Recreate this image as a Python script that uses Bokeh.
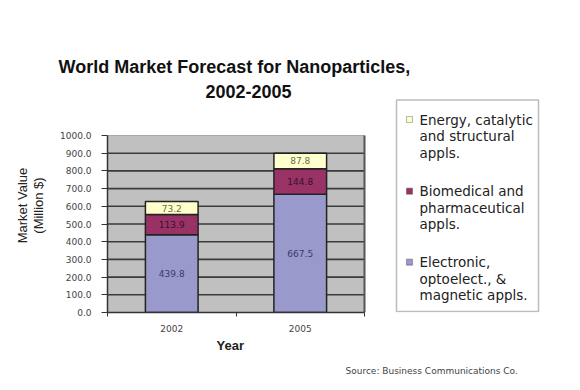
from bokeh.plotting import figure
from bokeh.models import (Label, FixedTicker, Range1d, BoxAnnotation, Title,
                          ColumnDataSource, LabelSet)
from bokeh.core.properties import value
from bokeh.embed import file_html
from bokeh.resources import INLINE

years = ["2002", "2005"]
electronic = [439.8, 667.5]
biomedical = [113.9, 144.8]
energy = [73.2, 87.8]
y_ticks = [0, 100, 200, 300, 400, 500, 600, 700, 800, 900, 1000]
series_names = [
    ["Energy, catalytic", "and structural", "appls."],
    ["Biomedical and", "pharmaceutical", "appls."],
    ["Electronic,", "optoelect., &", "magnetic appls."],
]
series_colors = ["#FFFFCC", "#993366", "#9999CC"]

FONT = "DejaVu Sans"
W, H = 576, 388
FL, FR, FT, FB = 107, 31, 98, 76
FRAME_W = W - FL - FR
FRAME_H = H - FT - FB
PLOT_W, PLOT_H = 257, 177          # pixel size of the grey plot area
y_max = max(y_ticks)

p = figure(width=W, height=H, output_backend="svg", toolbar_location=None,
           x_range=Range1d(0, len(years) * FRAME_W / PLOT_W),
           y_range=Range1d(0, y_max * FRAME_H / PLOT_H),
           min_border_left=FL, min_border_right=FR, min_border_top=FT,
           min_border_bottom=FB)
p.background_fill_color = "white"
p.border_fill_color = "white"
p.outline_line_color = None
p.xgrid.grid_line_color = None
p.ygrid.grid_line_color = None

# grey plot area + gridlines
p.quad(left=0, right=len(years), bottom=0, top=y_max,
       fill_color="#C0C0C0", line_color=None)
inner = y_ticks[1:-1]
p.segment(x0=[0] * len(inner), x1=[len(years)] * len(inner),
          y0=inner, y1=inner, line_color="#3A3A3A", line_width=1.6)
p.segment(x0=[0], x1=[len(years)], y0=[y_max], y1=[y_max],
          line_color="#A8A8A8", line_width=1)
p.segment(x0=[len(years)], x1=[len(years)], y0=[0], y1=[y_max],
          line_color="#555555", line_width=2)

xs = [i + 0.5 for i in range(len(years))]
b0 = [0] * len(years)
b1 = electronic
b2 = [a + b for a, b in zip(electronic, biomedical)]
t3 = [a + b for a, b in zip(b2, energy)]
src = ColumnDataSource(dict(x=xs, b0=b0, b1=b1, b2=b2, t3=t3,
                            m1=[(a + b) / 2 for a, b in zip(b0, b1)],
                            m2=[(a + b) / 2 for a, b in zip(b1, b2)],
                            m3=[(a + b) / 2 for a, b in zip(b2, t3)],
                            l1=[f"{v:.1f}" for v in electronic],
                            l2=[f"{v:.1f}" for v in biomedical],
                            l3=[f"{v:.1f}" for v in energy]))
BW = 0.41
p.vbar(x="x", bottom="b0", top="b1", width=BW, source=src,
       fill_color=series_colors[2], line_color="#222222", line_width=1.5)
p.vbar(x="x", bottom="b1", top="b2", width=BW, source=src,
       fill_color=series_colors[1], line_color="#222222", line_width=1.5)
p.vbar(x="x", bottom="b2", top="t3", width=BW, source=src,
       fill_color=series_colors[0], line_color="#222222", line_width=1.5)

for col, lab, colr in [("m1", "l1", "#3A3A6A"), ("m2", "l2", "#3A1030"),
                       ("m3", "l3", "#6A6A50")]:
    p.add_layout(LabelSet(x="x", y=col, text=lab, source=src,
                          text_align="center", text_baseline="middle",
                          text_font=value(FONT), text_font_size="9px",
                          text_color=colr))

# axes
p.yaxis.bounds = (0, y_max)
p.yaxis.ticker = FixedTicker(ticks=y_ticks)
p.yaxis.major_label_overrides = {t: f"{t:.1f}" for t in y_ticks}
p.yaxis.major_label_text_font = FONT
p.yaxis.major_label_text_font_size = "9px"
p.yaxis.major_label_text_color = "#444444"
p.yaxis.major_label_standoff = 10
p.yaxis.minor_tick_line_color = None
p.yaxis.major_tick_in = 0
p.yaxis.major_tick_out = 6
p.yaxis.axis_line_color = "#333333"
p.yaxis.axis_line_width = 1.5
p.yaxis.major_tick_line_color = "#333333"
p.yaxis.axis_label = "Market Value\n(Million $)"
p.yaxis.axis_label_text_font = "Liberation Sans"
p.yaxis.axis_label_text_font_style = "normal"
p.yaxis.axis_label_text_font_size = "13px"
p.yaxis.axis_label_text_line_height = 1.05
p.yaxis.axis_label_text_color = "#222222"
p.yaxis.axis_label_standoff = 11

p.xaxis.bounds = (0, len(years))
p.xaxis.ticker = FixedTicker(ticks=xs, minor_ticks=list(range(len(years) + 1)))
p.xaxis.major_label_overrides = {x: y for x, y in zip(xs, years)}
p.xaxis.major_label_text_font = FONT
p.xaxis.major_label_text_font_size = "9px"
p.xaxis.major_label_text_color = "#444444"
p.xaxis.major_tick_line_color = None
p.xaxis.minor_tick_in = 0
p.xaxis.minor_tick_out = 4
p.xaxis.minor_tick_line_color = "#333333"
p.xaxis.axis_line_color = "#333333"
p.xaxis.axis_line_width = 1.5
p.xaxis.major_label_standoff = 6

# x-axis title centred under the grey plot area, then the source note
p.add_layout(Title(text="Year", align="left", offset=109, standoff=3,
                   text_font="Liberation Sans", text_font_style="bold",
                   text_font_size="13px", text_color="#222222"), "below")
p.add_layout(Title(text="Source: Business Communications Co.", align="left",
                   offset=238, standoff=19, text_font=FONT,
                   text_font_size="9px", text_font_style="normal",
                   text_color="#444444"), "below")

# title: two lines in the panel above the frame
p.add_layout(Title(text="2002-2005", align="left", offset=98, standoff=2,
                   text_font="Liberation Sans", text_font_style="bold",
                   text_font_size="18px", text_color="#111111"), "above")
p.add_layout(Title(text="World Market Forecast for Nanoparticles,",
                   align="left", offset=-49, standoff=9,
                   text_font="Liberation Sans", text_font_style="bold",
                   text_font_size="18px", text_color="#111111"), "above")

# legend (manual, screen coords relative to frame bottom-left)
p.add_layout(BoxAnnotation(left=289, right=431, bottom=1, top=212.5,
                           left_units="screen", right_units="screen",
                           bottom_units="screen", top_units="screen",
                           fill_color="white", fill_alpha=1.0,
                           line_color="#222222", line_width=1.5))
item_y = [193, 121.3, 50.3]
for lines, colr, y0 in zip(series_names, series_colors, item_y):
    p.add_layout(BoxAnnotation(left=299, right=305, bottom=y0 - 3, top=y0 + 3,
                               left_units="screen", right_units="screen",
                               bottom_units="screen", top_units="screen",
                               fill_color=colr, fill_alpha=1.0,
                               line_color="#222222", line_width=1.2))
    for k, t in enumerate(lines):
        p.add_layout(Label(x=312, y=y0 - 16.5 * k, x_units="screen",
                           y_units="screen", text=t, text_font=FONT,
                           text_font_size="13.5px", text_align="left",
                           text_baseline="middle", text_color="#222222"))

open("out.html", "w").write(file_html(p, INLINE))
